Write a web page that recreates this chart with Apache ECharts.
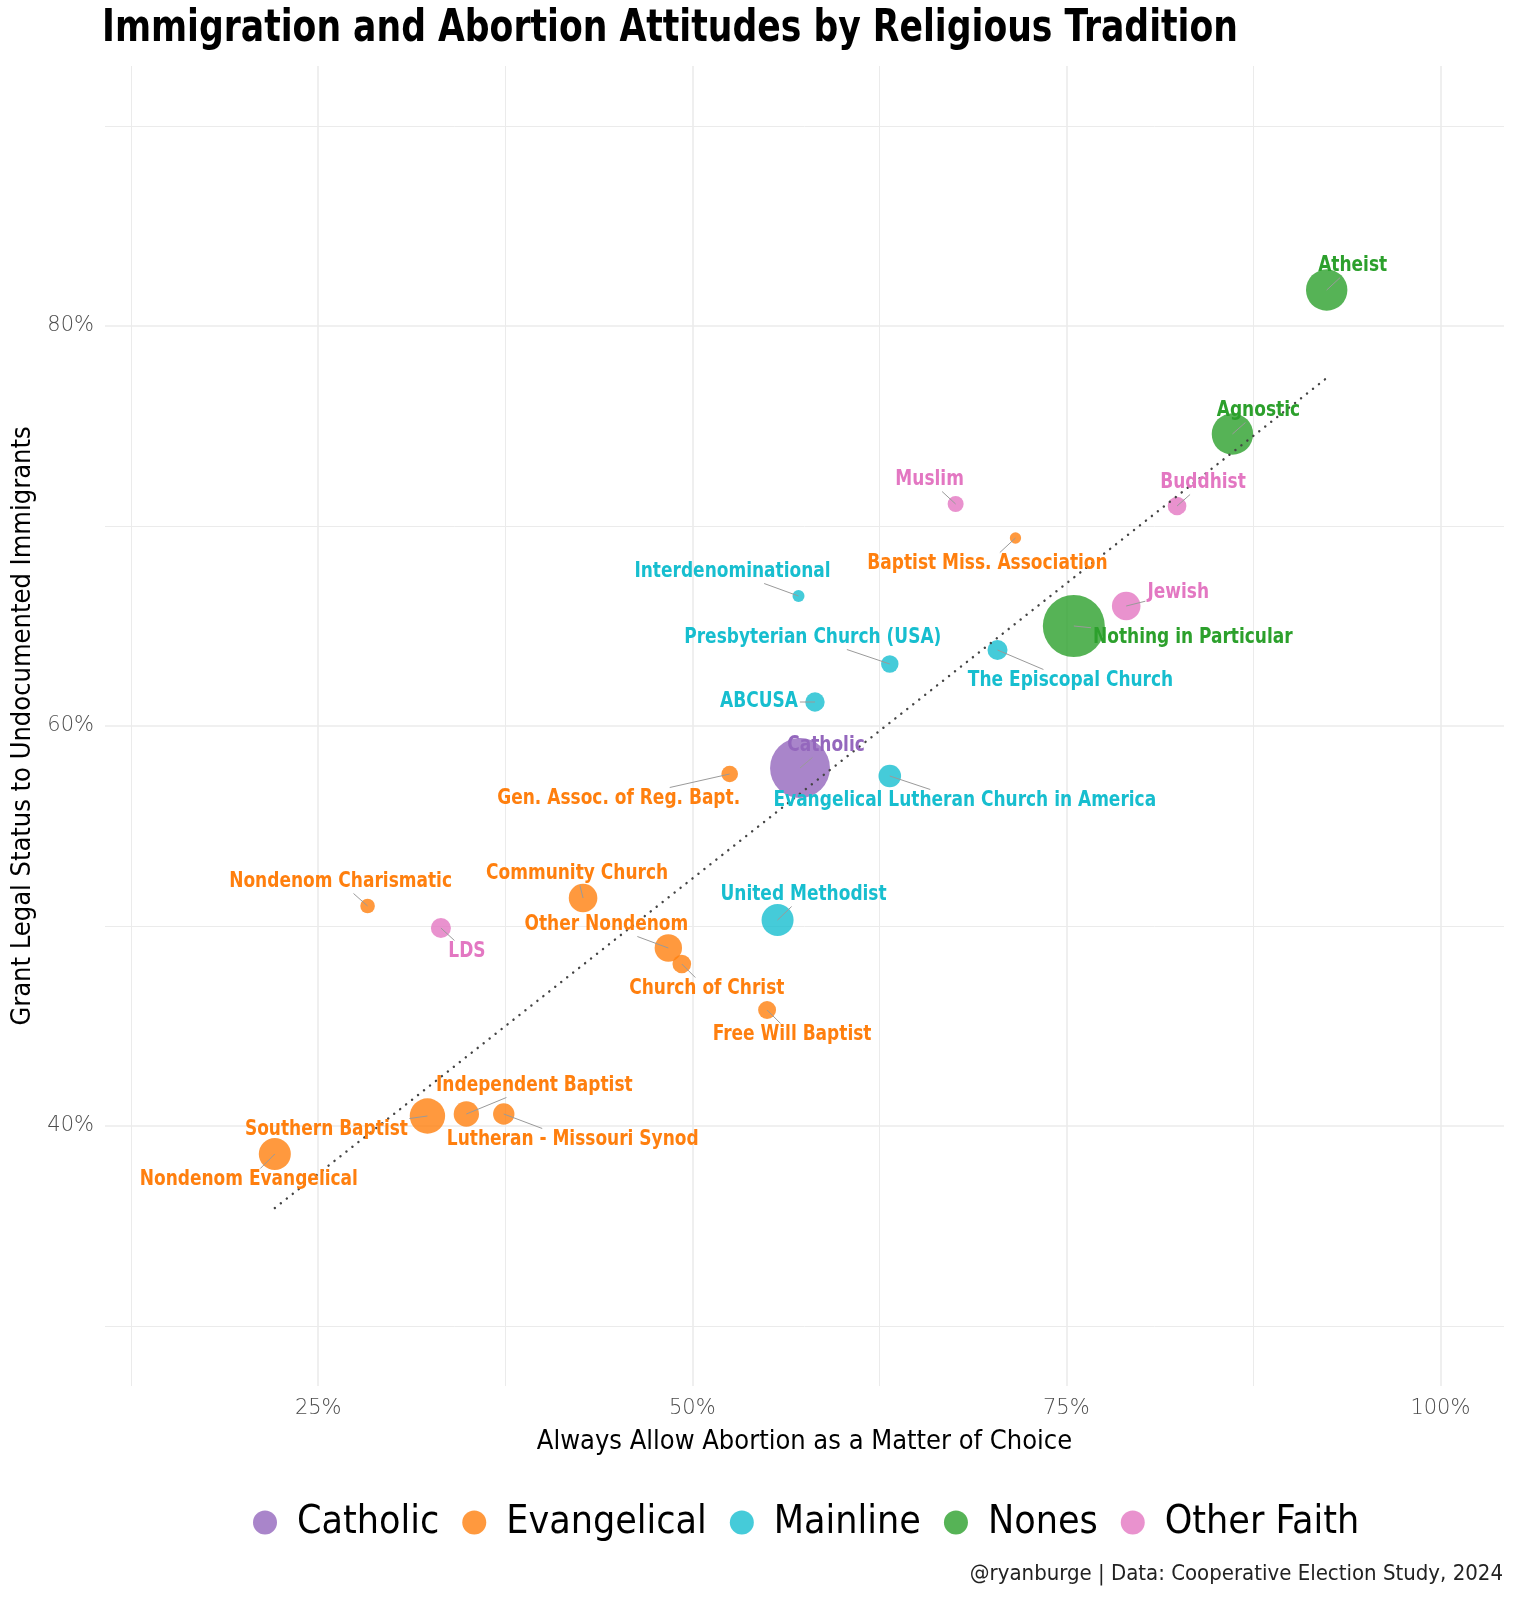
<!DOCTYPE html>
<html>
<head>
<meta charset="utf-8">
<title>Immigration and Abortion Attitudes by Religious Tradition</title>
<script src="https://cdn.jsdelivr.net/npm/echarts@6/dist/echarts.min.js"></script>
<style>
  html, body { margin: 0; padding: 0; background: #fff; }
  #main { width: 1516px; height: 1600px; }
</style>
</head>
<body>
<div id="main"></div>
<script>
// traditions (legend order) and their colours
const groups = ['Catholic', 'Evangelical', 'Mainline', 'Nones', 'Other Faith'];
const groupColors = ['#9467bd', '#ff7f0e', '#17becf', '#2ca02c', '#e377c2'];

// one entry per denomination
const names = [
  'Catholic',
  'Southern Baptist', 'Nondenom Evangelical', 'Independent Baptist', 'Lutheran - Missouri Synod',
  'Nondenom Charismatic', 'Community Church', 'Other Nondenom', 'Church of Christ',
  'Free Will Baptist', 'Gen. Assoc. of Reg. Bapt.', 'Baptist Miss. Association',
  'United Methodist', 'Evangelical Lutheran Church in America', 'ABCUSA',
  'Presbyterian Church (USA)', 'The Episcopal Church', 'Interdenominational',
  'Atheist', 'Agnostic', 'Nothing in Particular',
  'LDS', 'Muslim', 'Buddhist', 'Jewish'
];
const tradition = [
  'Catholic',
  'Evangelical', 'Evangelical', 'Evangelical', 'Evangelical',
  'Evangelical', 'Evangelical', 'Evangelical', 'Evangelical',
  'Evangelical', 'Evangelical', 'Evangelical',
  'Mainline', 'Mainline', 'Mainline',
  'Mainline', 'Mainline', 'Mainline',
  'Nones', 'Nones', 'Nones',
  'Other Faith', 'Other Faith', 'Other Faith', 'Other Faith'
];
// % always allow abortion as a matter of choice
const abortion = [
  57.2,
  32.3, 22.1, 34.9, 37.4,
  28.3, 42.7, 48.4, 49.3,
  55.0, 52.5, 71.6,
  55.7, 63.2, 58.2,
  63.2, 70.4, 57.1,
  92.4, 86.1, 75.5,
  33.2, 67.6, 82.4, 79.0
];
// % grant legal status to undocumented immigrants
const immigration = [
  57.9,
  40.5, 38.6, 40.6, 40.6,
  51.0, 51.4, 48.9, 48.1,
  45.8, 57.6, 69.4,
  50.3, 57.5, 61.2,
  63.1, 63.8, 66.5,
  81.8, 74.6, 65.0,
  49.9, 71.1, 71.0, 66.0
];
// respondents (bubble size)
const sampleN = [
  11200,
  3900, 3200, 2000, 1430,
  660, 2550, 2340, 1080,
  1010, 860, 400,
  3200, 1590, 1175,
  945, 1250, 450,
  5350, 5350, 12000,
  1250, 800, 1080, 2550
];

// fitted line
const trendX = [22.1, 92.4];
const trendY = [35.9, 77.4];

const xTicks = [25, 50, 75, 100];
const xMinor = [12.5, 37.5, 62.5, 87.5];
const yTicks = [40, 60, 80];
const yMinor = [30, 50, 70, 90];

// where each repelled label sits relative to its point (px)
const labelShift = {
  'Catholic': [26, -22],
  'Southern Baptist': [-101, 14],
  'Nondenom Evangelical': [-26, 26],
  'Independent Baptist': [68, -28],
  'Lutheran - Missouri Synod': [69, 26],
  'Nondenom Charismatic': [-27, -24],
  'Community Church': [-6, -24],
  'Other Nondenom': [-62, -23],
  'Church of Christ': [25, 25],
  'Free Will Baptist': [25, 25],
  'Gen. Assoc. of Reg. Bapt.': [-111, 25],
  'Baptist Miss. Association': [-28, 26],
  'United Methodist': [26, -25],
  'Evangelical Lutheran Church in America': [75, 25],
  'ABCUSA': [-56, 0],
  'Presbyterian Church (USA)': [-77, -26],
  'The Episcopal Church': [73, 31],
  'Interdenominational': [-66, -24],
  'Atheist': [26, -24],
  'Agnostic': [26, -23],
  'Nothing in Particular': [119, 12],
  'LDS': [26, 24],
  'Muslim': [-26, -24],
  'Buddhist': [26, -23],
  'Jewish': [52, -13]
};

const NARROW = "'Liberation Sans Narrow', 'DejaVu Sans Condensed', sans-serif";
const LABEL_SIZE = 21;
const LABEL_SQUEEZE = 0.9;   // the original face is narrower than what we have

// text widths for clipping the label segments
const measureCtx = document.createElement('canvas').getContext('2d');
measureCtx.font = 'bold ' + LABEL_SIZE + 'px ' + NARROW;
function textHalfWidth(t) { return measureCtx.measureText(t).width * LABEL_SQUEEZE / 2; }

const chart = echarts.init(document.getElementById('main'));

// one scatter series per tradition (keeps the legend)
const scatterSeries = groups.map((g, gi) => {
  const data = [];
  names.forEach((n, i) => {
    if (tradition[i] === g) data.push({ name: n, value: [abortion[i], immigration[i], sampleN[i]] });
  });
  return {
    name: g,
    type: 'scatter',
    data: data,
    z: 2,
    symbolSize: v => 62 * Math.sqrt(v[2] / 12000),
    itemStyle: { color: groupColors[gi], opacity: 0.8 },
    emphasis: { disabled: true }
  };
});

// repel-style labels: text plus a segment from the box edge to the point centre
const labelSeries = {
  name: 'labels',
  type: 'custom',
  z: 4,
  silent: true,
  data: names.map((n, i) => [abortion[i], immigration[i]]),
  renderItem: function (params, api) {
    const i = params.dataIndex;
    const nm = names[i];
    const col = groupColors[groups.indexOf(tradition[i])];
    const p = api.coord([api.value(0), api.value(1)]);
    const s = labelShift[nm];
    const cx = p[0] + s[0], cy = p[1] + s[1];
    const children = [];
    const hw = textHalfWidth(nm) + 2;
    const hh = LABEL_SIZE * 0.5 + 1;
    const t = Math.min(s[0] !== 0 ? hw / Math.abs(s[0]) : Infinity,
                       s[1] !== 0 ? hh / Math.abs(s[1]) : Infinity);
    if (t < 0.92) {
      children.push({
        type: 'line',
        shape: { x1: cx - s[0] * t, y1: cy - s[1] * t, x2: p[0], y2: p[1] },
        style: { stroke: '#9a9a9a', lineWidth: 1 }
      });
    }
    children.push({
      type: 'text',
      x: cx,
      y: cy,
      scaleX: LABEL_SQUEEZE,
      style: {
        text: nm,
        x: 0, y: 0,
        fill: col,
        font: 'bold ' + LABEL_SIZE + 'px ' + NARROW,
        align: 'center',
        verticalAlign: 'middle'
      }
    });
    return { type: 'group', children: children };
  }
};

const axisCommon = {
  type: 'value',
  axisLine: { show: false },
  axisTick: { show: false },
  splitLine: { show: true, lineStyle: { color: '#ebebeb', width: 1.6 } }
};
const tickFont = {
  color: '#4d4d4d', fontFamily: "'DejaVu Sans', sans-serif", fontWeight: 200, fontSize: 21
};

const option = {
  backgroundColor: '#fff',
  animation: false,
  grid: { left: 105, right: 12, top: 66, bottom: 214, outerBoundsMode: 'none' },
  legend: {
    data: groups,
    bottom: 53,
    left: 248,
    icon: 'circle',
    itemWidth: 24,
    itemHeight: 24,
    itemGap: 23,
    itemStyle: { opacity: 0.8 },
    textStyle: { fontFamily: NARROW, fontSize: 39, color: '#000', padding: [0, 0, 0, 15] }
  },
  xAxis: [
    Object.assign({}, axisCommon, {
      min: 10.75, max: 104.25,
      axisTick: { show: false, customValues: xTicks },
      axisLabel: Object.assign({ customValues: xTicks, formatter: '{value}%', margin: 12 }, tickFont),
      name: 'Always Allow Abortion as a Matter of Choice',
      nameLocation: 'middle',
      nameGap: 42,
      nameTextStyle: { fontFamily: NARROW, fontSize: 27, color: '#000' }
    }),
    Object.assign({}, axisCommon, {
      min: 10.75, max: 104.25,
      axisTick: { show: false, customValues: xMinor },
      axisLabel: { show: false },
      splitLine: { show: true, lineStyle: { color: '#ebebeb', width: 1 } }
    })
  ],
  yAxis: [
    Object.assign({}, axisCommon, {
      min: 27, max: 93,
      axisTick: { show: false, customValues: yTicks },
      axisLabel: Object.assign({ customValues: yTicks, formatter: '{value}%', margin: 11 }, tickFont),
      name: 'Grant Legal Status to Undocumented Immigrants',
      nameLocation: 'middle',
      nameGap: 53,
      nameTextStyle: { fontFamily: NARROW, fontSize: 27, color: '#000' }
    }),
    Object.assign({}, axisCommon, {
      min: 27, max: 93,
      axisTick: { show: false, customValues: yMinor },
      axisLabel: { show: false },
      splitLine: { show: true, lineStyle: { color: '#ebebeb', width: 1 } }
    })
  ],
  graphic: [
    {
      type: 'text',
      x: 102,
      y: 8,
      scaleX: 0.875,
      style: {
        text: 'Immigration and Abortion Attitudes by Religious Tradition',
        fontFamily: NARROW, fontWeight: 'bold', fontSize: 44, fill: '#000'
      }
    },
    {
      type: 'text',
      right: 13,
      top: 1563,
      style: {
        text: '@ryanburge | Data: Cooperative Election Study, 2024',
        fontFamily: NARROW, fontSize: 22, fill: '#222'
      }
    }
  ],
  series: scatterSeries.concat([{
    name: 'trend',
    type: 'line',
    data: trendX.map((x, i) => [x, trendY[i]]),
    symbol: 'none',
    z: 3,
    silent: true,
    lineStyle: { color: '#444', width: 2.4, type: [0.1, 7.5], cap: 'round' }
  }, labelSeries])
};

chart.setOption(option);
</script>
</body>
</html>
